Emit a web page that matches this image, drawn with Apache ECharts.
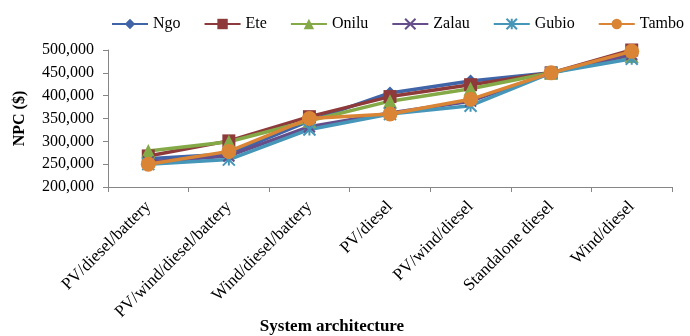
<!DOCTYPE html>
<html>
<head>
<meta charset="utf-8">
<script src="https://cdn.jsdelivr.net/npm/echarts@6/dist/echarts.min.js"></script>
<style>
html,body{margin:0;padding:0;background:#fff;}
#chart{width:690px;height:336px;}
</style>
</head>
<body>
<div id="chart"></div>
<script>
var categories = ['PV/diesel/battery','PV/wind/diesel/battery','Wind/diesel/battery','PV/diesel','PV/wind/diesel','Standalone diesel','Wind/diesel'];
var seriesNames = ['Ngo','Ete','Onilu','Zalau','Gubio','Tambo'];
var ngo   = [262000, 272000, 345000, 406000, 432000, 450000, 490000];
var ete   = [268000, 301000, 354000, 398000, 424000, 450000, 500000];
var onilu = [279000, 299000, 345000, 388000, 415000, 450000, 487000];
var zalau = [255000, 268000, 332000, 362000, 388000, 450000, 490000];
var gubio = [250000, 260000, 326000, 360000, 378000, 450000, 481000];
var tambo = [250000, 278000, 350000, 360000, 392000, 450000, 497000];
var yMin = 200000, yMax = 500000, yStep = 50000;

var FONT = "'Liberation Serif', 'Times New Roman', serif";
var colors = ['#3F64A8','#8E3A3A','#84AA48','#654E8A','#4596B8','#D98535'];
var symbols = [
  'diamond',
  'rect',
  'triangle',
  'path://M0,0L10,10M10,0L0,10',
  'path://M5,0L5,10M0,0L10,10M10,0L0,10',
  'circle'
];
var symbolSizes = [13, 13, 14, 11, 12, 15];
var values = [ngo, ete, onilu, zalau, gubio, tambo];

var series = seriesNames.map(function(name, i){
  var isPath = symbols[i].indexOf('path://') === 0;
  return {
    name: name,
    type: 'line',
    data: values[i],
    symbol: symbols[i],
    symbolSize: symbolSizes[i],
    showAllSymbol: true,
    lineStyle: {color: colors[i], width: 3.5},
    itemStyle: isPath ? {color: 'none', borderColor: colors[i], borderWidth: 2} : {color: colors[i], borderColor: colors[i], borderWidth: 0},
    emphasis: {disabled: true},
    animation: false,
    clip: false
  };
});

var chart = echarts.init(document.getElementById('chart'));
chart.setOption({
  backgroundColor: '#ffffff',
  animation: false,
  color: colors,
  legend: {
    data: seriesNames,
    left: 106,
    top: 11,
    itemWidth: 36,
    itemHeight: 13,
    itemGap: 23,
    textStyle: {fontFamily: FONT, fontSize: 16, color: '#000'}
  },
  grid: {left: 108, right: 18, top: 50, bottom: 149, containLabel: false},
  xAxis: {
    type: 'category',
    data: categories,
    boundaryGap: true,
    axisLine: {lineStyle: {color: '#868686', width: 1}},
    axisTick: {show: true, length: 5, lineStyle: {color: '#868686'}},
    axisLabel: {rotate: 45, margin: 17, interval: 0, fontFamily: FONT, fontSize: 17, color: '#000'},
    splitLine: {show: false}
  },
  yAxis: {
    type: 'value',
    min: yMin,
    max: yMax,
    interval: yStep,
    name: 'NPC ($)',
    nameLocation: 'middle',
    nameGap: 80,
    nameTextStyle: {fontFamily: FONT, fontSize: 16, fontWeight: 'bold', color: '#000'},
    axisLine: {show: true, lineStyle: {color: '#868686', width: 1}},
    axisTick: {show: true, length: 5, lineStyle: {color: '#868686'}},
    axisLabel: {margin: 14, fontFamily: FONT, fontSize: 16, color: '#000'},
    splitLine: {show: false}
  },
  graphic: [{
    type: 'text',
    x: 332,
    y: 327,
    style: {
      text: 'System architecture',
      font: "bold 17px 'Liberation Serif', 'Times New Roman', serif",
      fill: '#000',
      textAlign: 'center',
      textVerticalAlign: 'middle'
    }
  }],
  series: series
});
</script>
</body>
</html>
